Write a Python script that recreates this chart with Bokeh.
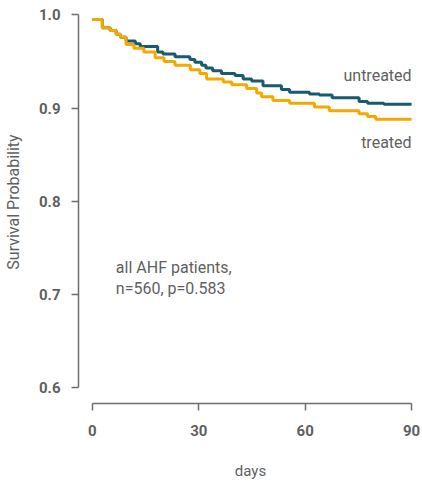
from bokeh.plotting import figure
from bokeh.models import Range1d, FixedTicker
from bokeh.core.properties import value
from bokeh.embed import file_html
from bokeh.resources import INLINE

# --- data ---
treated_days = [0, 2.8, 5.0, 6.7, 7.9, 9.5, 11.7, 14.5, 17.7, 20.2, 23.3, 27.6, 30.3, 32.2, 36.9,
                39.3, 43.5, 46.3, 47.7, 50.9, 55.6, 62.6, 66.8, 75.2, 77.6, 79.9, 90]
treated_surv = [0.995, 0.986, 0.983, 0.979, 0.976, 0.968, 0.964, 0.960, 0.954, 0.950, 0.946, 0.941,
                0.937, 0.931, 0.928, 0.925, 0.921, 0.916, 0.912, 0.908, 0.905, 0.901, 0.897, 0.894,
                0.891, 0.888, 0.888]

untreated_days = [0, 2.8, 5.0, 6.7, 7.9, 9.5, 12.1, 13.5, 18.4, 19.9, 23.3, 27.5, 28.9, 30.8, 32.0,
                  33.9, 36.4, 40.2, 42.5, 44.9, 48.1, 53.3, 55.6, 61.2, 64.0, 67.6, 75.2, 77.6, 82.2, 90]
untreated_surv = [0.995, 0.986, 0.983, 0.979, 0.976, 0.972, 0.969, 0.966, 0.960, 0.958, 0.955, 0.952,
                  0.949, 0.946, 0.943, 0.940, 0.937, 0.935, 0.931, 0.929, 0.924, 0.920, 0.917, 0.915,
                  0.914, 0.911, 0.907, 0.905, 0.904, 0.904]

x_ticks = [0, 30, 60, 90]
y_ticks = [0.6, 0.7, 0.8, 0.9, 1.0]
y_tick_labels = ["0.6", "0.7", "0.8", "0.9", "1.0"]

series_labels = ["untreated", "treated"]
annotation_lines = ["all AHF patients,", "n=560, p=0.583"]

TEAL = "#175a72"
GOLD = "#f4a900"
TEXT = "#5f5f5f"
AXIS = "#6e6e6e"
FONT = "Roboto"

p = figure(width=422, height=482, output_backend="svg", toolbar_location=None,
           x_range=Range1d(-3.925, 93.08), y_range=Range1d(0.5832, 1.0153),
           min_border_left=76, min_border_right=0, min_border_top=0, min_border_bottom=79)
p.outline_line_color = None
p.xgrid.visible = False
p.ygrid.visible = False
p.background_fill_color = "white"
p.border_fill_color = "white"

p.step(untreated_days, untreated_surv, mode="after", line_color=TEAL, line_width=3)
p.step(treated_days, treated_surv, mode="after", line_color=GOLD, line_width=3)

# curve labels
p.text(x=[90], y=[0.9349], text=[series_labels[0]], text_align="right", text_baseline="middle",
       text_font=value(FONT), text_font_size="16px", text_color=TEXT)
p.text(x=[90], y=[0.8631], text=[series_labels[1]], text_align="right", text_baseline="middle",
       text_font=value(FONT), text_font_size="16px", text_color=TEXT)
p.text(x=[6.6, 6.6], y=[0.7293, 0.7065], text=annotation_lines, text_align="left",
       text_baseline="middle", text_font=value(FONT), text_font_size="16px", text_color=TEXT)

for ax in (p.xaxis[0], p.yaxis[0]):
    ax.axis_line_color = AXIS
    ax.axis_line_width = 1.5
    ax.major_tick_line_color = AXIS
    ax.major_tick_line_width = 1.5
    ax.major_tick_out = 7
    ax.major_tick_in = 0
    ax.minor_tick_line_color = None
    ax.major_label_text_font = FONT
    ax.major_label_text_font_size = "15px"
    ax.major_label_text_font_style = "bold"
    ax.major_label_text_color = TEXT
    ax.axis_label_text_font = FONT
    ax.axis_label_text_font_size = "15px"
    ax.axis_label_text_font_style = "normal"
    ax.axis_label_text_color = TEXT

p.xaxis.ticker = FixedTicker(ticks=x_ticks)
p.xaxis.bounds = (0, 90)
p.xaxis.axis_label = "days"
p.xaxis.major_label_standoff = 14
p.xaxis.axis_label_standoff = 23

p.yaxis.ticker = FixedTicker(ticks=y_ticks)
p.yaxis.major_label_overrides = {t: l for t, l in zip(y_ticks, y_tick_labels)}
p.yaxis.bounds = (0.6, 1.0)
p.yaxis.axis_label = "Survival Probability"
p.yaxis.axis_label_text_font_size = "16px"
p.yaxis.major_label_standoff = 11
p.yaxis.axis_label_standoff = 13

open("out.html", "w").write(file_html(p, INLINE))
